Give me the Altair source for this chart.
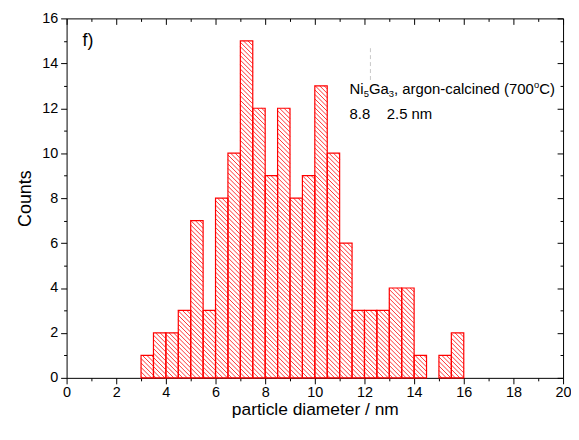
import math
import altair as alt
import pandas as pd

# ---- data ----
bin_start = [3.0, 3.5, 4.0, 4.5, 5.0, 5.5, 6.0, 6.5, 7.0, 7.5, 8.0, 8.5, 9.0,
             9.5, 10.0, 10.5, 11.0, 11.5, 12.0, 12.5, 13.0, 13.5, 14.0, 14.5,
             15.0, 15.5]
counts = [1, 2, 2, 3, 7, 3, 8, 10, 15, 12, 9, 12, 8,
          9, 13, 10, 6, 3, 3, 3, 4, 4, 1, 0,
          1, 2]
bin_width = 0.5
x_ticks = list(range(0, 21))
y_ticks = list(range(0, 17))

# ---- layout / style ----
W, H = 500, 362
XMAX, YMAX = 20, 16
FONT = "Liberation Sans"
RED = "#ff0000"
sx, sy = W / XMAX, H / YMAX
HATCH = 4.5  # px between hatch lines (vertical)

bars = pd.DataFrame({
    "start": bin_start,
    "end": [s + bin_width for s in bin_start],
    "count": counts,
})
bars = bars[bars["count"] > 0]

# hatch lines ("\\" pattern) clipped to each bar, in data units
rows = []
for s, c in zip(bin_start, counts):
    if c <= 0:
        continue
    a = s * sx
    wp = bin_width * sx
    hp = c * sy
    k = math.floor(a / HATCH) + 1
    while True:
        cl = k * HATCH - a
        if cl >= hp + wp:
            break
        if cl > 0:
            u0 = max(0.0, cl - hp)
            v0 = cl - u0
            u1 = min(wp, cl)
            v1 = cl - u1
            rows.append({"x0": s + u0 / sx, "y0": v0 / sy,
                         "x1": s + u1 / sx, "y1": v1 / sy})
        k += 1
hatch_df = pd.DataFrame(rows)

xs = alt.Scale(domain=[0, XMAX], nice=False, zero=False)
ys = alt.Scale(domain=[0, YMAX], nice=False, zero=False)

tick_cond = {"condition": {"test": "datum.value % 2 === 0", "value": 6}, "value": 3}
common = dict(tickColor="black", domainColor="black", domainWidth=1, tickWidth=1,
              grid=False, labelOverlap=False, labelFlush=False)

ax_bottom = alt.Axis(orient="bottom", values=x_ticks, tickSize=tick_cond,
                     labelExpr="datum.value % 2 === 0 ? datum.label : ''",
                     labelFont=FONT, labelFontSize=14.5, labelColor="black", labelPadding=2,
                     title="particle diameter / nm", titleFont=FONT, titleFontSize=17.5,
                     titleFontWeight="normal", titleColor="black", titlePadding=1, **common)
ax_left = alt.Axis(orient="left", values=y_ticks, tickSize=tick_cond,
                   labelExpr="datum.value % 2 === 0 ? datum.label : ''",
                   labelFont=FONT, labelFontSize=14.5, labelColor="black", labelPadding=3,
                   title="Counts", titleFont=FONT, titleFontSize=18,
                   titleFontWeight="normal", titleColor="black", titlePadding=7, **common)
ax_top = alt.Axis(orient="bottom", offset=-H, values=x_ticks, tickSize=tick_cond,
                  labels=False, title=None, **common)
ax_right = alt.Axis(orient="left", offset=-W, values=y_ticks, tickSize=tick_cond,
                    labels=False, title=None, **common)

hatch = alt.Chart(hatch_df).mark_rule(color=RED, strokeWidth=0.8).encode(
    x=alt.X("x0:Q", scale=xs, axis=ax_bottom),
    x2="x1:Q",
    y=alt.Y("y0:Q", scale=ys, axis=ax_left),
    y2="y1:Q",
)

outline = alt.Chart(bars).mark_rect(stroke=RED, strokeWidth=1.2, fillOpacity=0, fill="white").encode(
    x=alt.X("start:Q", scale=xs, axis=ax_top),
    x2="end:Q",
    y=alt.Y("count:Q", scale=ys, axis=ax_right),
    y2=alt.datum(0),
)

# ---- annotation text (pieces for sub/superscripts) ----
AW = {"N": .722, "i": .222, "G": .778, "a": .556, ",": .278, " ": .278, "r": .333,
      "g": .556, "o": .556, "n": .556, "-": .333, "c": .5, "l": .222, "e": .556,
      "d": .556, "(": .333, ")": .333, "C": .722, "0": .556, "3": .556, "5": .556,
      "7": .556}
MAIN, SMALL = 15, 9.5
pieces = [("Ni", MAIN, 0), ("5", SMALL, 3), ("Ga", MAIN, 0), ("3", SMALL, 3),
          (", argon-calcined (700", MAIN, 0), ("o", SMALL, -6), ("C)", MAIN, 0)]
ann_x0, ann_y0 = 285, 76
ann_rows = []
cx = ann_x0
for txt, fs, dy in pieces:
    ann_rows.append({"t": txt, "px": cx, "py": ann_y0 + dy, "fs": fs})
    cx += sum(AW.get(ch, .556) for ch in txt) * fs
ann_rows.append({"t": "8.8\u00a0\u00a0\u00a0\u00a02.5 nm", "px": ann_x0, "py": 101, "fs": MAIN})
ann_rows.append({"t": "f)", "px": 16, "py": 28, "fs": 18})
ann_df = pd.DataFrame(ann_rows)

ann = alt.Chart(ann_df).mark_text(font=FONT, color="black", align="left",
                                  baseline="alphabetic").encode(
    x=alt.X("px:Q", scale=None),
    y=alt.Y("py:Q", scale=None),
    text="t:N",
    size=alt.Size("fs:Q", scale=None),
)

stray = alt.Chart(pd.DataFrame({"a": [0]})).mark_rule(
    color="#c8c8c8", strokeWidth=1, strokeDash=[4, 3]).encode(
    x=alt.value(306), y=alt.value(30), y2=alt.value(62))

chart = alt.layer(hatch, outline, ann, stray).resolve_axis(
    x="independent", y="independent"
).resolve_scale(x="independent", y="independent").properties(
    width=W, height=H,
    autosize=alt.AutoSizeParams(type="none"),
    padding={"left": 59, "top": 9, "right": 8, "bottom": 46},
).configure_view(stroke=None)

chart.save("out.html", embed_options={"renderer": "svg", "actions": False})
